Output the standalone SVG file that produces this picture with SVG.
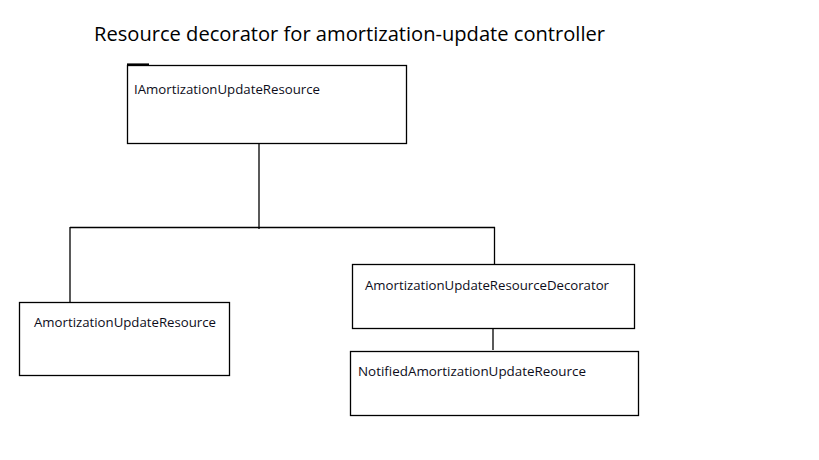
<svg xmlns="http://www.w3.org/2000/svg" width="819" height="460" viewBox="0 0 819 460">
<style>
.box{fill:#fff;stroke:#000;stroke-width:1.3}
.lbl{font-family:"Open Sans","Noto Sans",sans-serif;font-size:13px;fill:#0d0d1a}
.title{font-family:"Open Sans","Noto Sans",sans-serif;font-size:20px;fill:#000}
.conn{stroke:#000;stroke-width:1.3;fill:none}
</style>
<rect width="819" height="460" fill="#fff"/>
<text class="title" x="94" y="41" textLength="511" lengthAdjust="spacingAndGlyphs">Resource decorator for amortization-update controller</text>
<g id="connectors">
<path class="conn" d="M259 143V229"/>
<path class="conn" d="M70 227.5H495"/>
<path class="conn" d="M70 227V302"/>
<path class="conn" d="M494.5 227V264"/>
<path class="conn" d="M493 328V350"/>
</g>
<g id="node-iface">
<rect class="box" x="127.5" y="65.5" width="279" height="78"/>
<path d="M127 64.5H149" stroke="#000" stroke-width="2.2"/>
<text class="lbl" x="134" y="94" textLength="186" lengthAdjust="spacingAndGlyphs">IAmortizationUpdateResource</text>
</g>
<g id="node-impl">
<rect class="box" x="19.5" y="302.5" width="210" height="73"/>
<text class="lbl" x="34" y="327" textLength="182" lengthAdjust="spacingAndGlyphs">AmortizationUpdateResource</text>
</g>
<g id="node-decorator">
<rect class="box" x="352.5" y="264.5" width="282" height="64"/>
<text class="lbl" x="365" y="290" textLength="244" lengthAdjust="spacingAndGlyphs">AmortizationUpdateResourceDecorator</text>
</g>
<g id="node-notified">
<rect class="box" x="350.5" y="351.5" width="288" height="64"/>
<text class="lbl" x="358" y="376" textLength="228" lengthAdjust="spacingAndGlyphs">NotifiedAmortizationUpdateReource</text>
</g>
</svg>
